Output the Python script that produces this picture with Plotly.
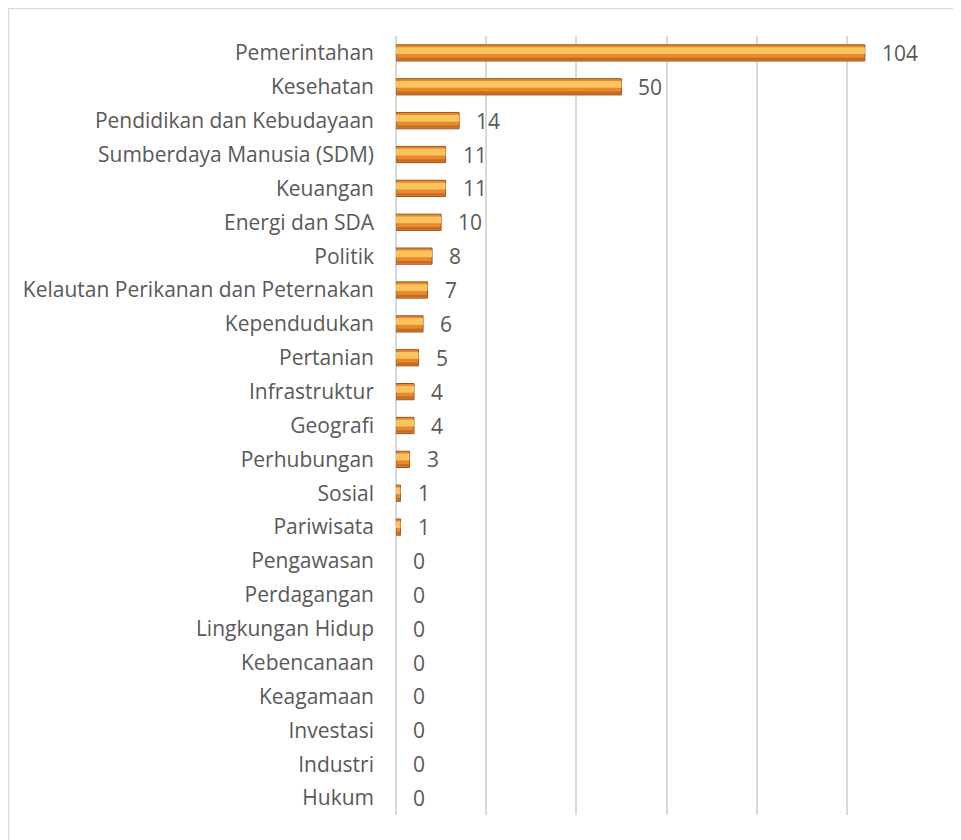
import plotly.graph_objects as go

categories = ["Pemerintahan", "Kesehatan", "Pendidikan dan Kebudayaan", "Sumberdaya Manusia (SDM)",
              "Keuangan", "Energi dan SDA", "Politik", "Kelautan Perikanan dan Peternakan",
              "Kependudukan", "Pertanian", "Infrastruktur", "Geografi", "Perhubungan", "Sosial",
              "Pariwisata", "Pengawasan", "Perdagangan", "Lingkungan Hidup", "Kebencanaan",
              "Keagamaan", "Investasi", "Industri", "Hukum"]
values = [104, 50, 14, 11, 11, 10, 8, 7, 6, 5, 4, 4, 3, 1, 1, 0, 0, 0, 0, 0, 0, 0, 0]

OFF = 8  # page body margin
W, H = 961 - OFF, 840 - OFF
L, R, T, B = 396 - OFF, 937 - OFF, 36 - OFF, 815 - OFF

FONT = "Open Sans"
FS = 21
TXT = "#595959"

line_w = [1 if v > 0 else 0 for v in values]

fig = go.Figure()
fig.add_trace(go.Bar(x=values, y=categories, orientation="h", width=0.48,
                     marker=dict(color="#E8892E", line=dict(color="#A4521A", width=line_w)),
                     hoverinfo="x+y", showlegend=False))
fig.add_trace(go.Bar(x=values, y=categories, orientation="h", width=0.2, offset=-0.17,
                     marker=dict(color="#FBC35E", line=dict(width=0)),
                     hoverinfo="skip", showlegend=False))
fig.add_trace(go.Bar(x=values, y=categories, orientation="h", width=0.07, offset=0.14,
                     marker=dict(color="#C46C24", line=dict(width=0)),
                     hoverinfo="skip", showlegend=False))

for c, v in zip(categories, values):
    fig.add_annotation(x=v, y=c, text=str(v), showarrow=False, xanchor="left", xshift=15,
                       font=dict(family=FONT, size=FS, color=TXT))

# chart border (top and left visible)
fig.add_shape(type="rect", xref="paper", yref="paper",
              x0=(0 - L) / (R - L), x1=(W + 30 - L) / (R - L),
              y0=(B - (H + 30)) / (B - T), y1=(B - 0) / (B - T),
              line=dict(color="#D9D9D9", width=2.5), fillcolor="rgba(0,0,0,0)", layer="below")

fig.update_layout(
    width=W, height=H,
    margin=dict(l=L, r=W - R, t=T, b=H - B),
    paper_bgcolor="white", plot_bgcolor="white",
    barmode="overlay",
    font=dict(family=FONT, size=FS, color=TXT),
    xaxis=dict(range=[0, 120], dtick=20, showgrid=True, gridcolor="#D9D9D9", gridwidth=1.5,
               zeroline=True, zerolinecolor="#D9D9D9", zerolinewidth=1.5,
               showticklabels=False, showline=False, fixedrange=True),
    yaxis=dict(autorange="reversed", showgrid=False, ticks="", ticklabelstandoff=21,
               tickfont=dict(family=FONT, size=FS, color=TXT)),
)

fig.write_html("out.html")
